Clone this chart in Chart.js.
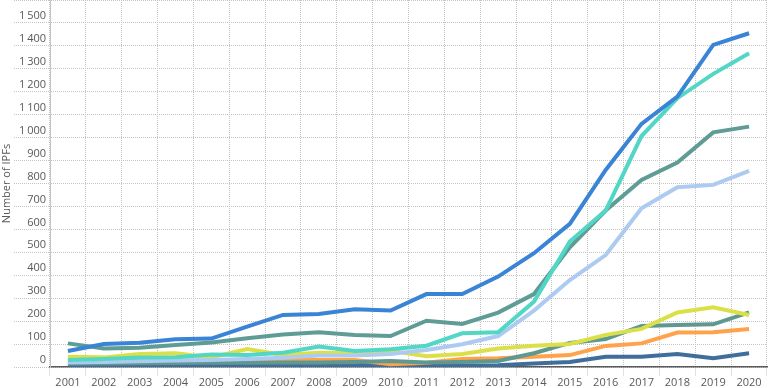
<!DOCTYPE html>
<html>
<head>
<meta charset="utf-8">
<script src="https://cdn.jsdelivr.net/npm/chart.js@4"></script>
<style>
    html, body { margin: 0; padding: 0; background: #ffffff; }
    #wrap { width: 768px; height: 388px; }
</style>
</head>
<body>
<div id="wrap"><canvas id="ipfChart"></canvas></div>
<script>
const years = ['2001', '2002', '2003', '2004', '2005', '2006', '2007', '2008', '2009', '2010',
               '2011', '2012', '2013', '2014', '2015', '2016', '2017', '2018', '2019', '2020'];

const blueSeries      = [70, 100, 106, 121, 124, 176, 227, 231, 252, 246, 318, 318, 394, 496, 624, 859, 1060, 1179, 1404, 1455];
const turquoiseSeries = [31, 35, 41, 42, 55, 52, 62, 89, 70, 77, 93, 147, 151, 285, 547, 682, 1007, 1172, 1278, 1368];
const tealSeries      = [103, 81, 84, 96, 107, 125, 142, 151, 140, 135, 202, 188, 237, 318, 522, 682, 815, 891, 1023, 1048];
const lightBlueSeries = [20, 22, 25, 28, 30, 35, 40, 50, 50, 57, 74, 99, 135, 246, 379, 488, 692, 784, 794, 855];
const yellowSeries    = [45, 42, 57, 60, 42, 78, 52, 62, 60, 71, 47, 57, 81, 93, 100, 140, 166, 238, 260, 227];
const tealLowSeries   = [15, 15, 16, 17, 18, 19, 20, 20, 22, 26, 20, 22, 26, 60, 105, 122, 179, 183, 186, 238];
const orangeSeries    = [26, 26, 26, 27, 28, 30, 31, 31, 30, 12, 19, 35, 38, 45, 52, 92, 103, 150, 151, 166];
const darkBlueSeries  = [7, 7, 8, 8, 8, 8, 9, 9, 9, 8, 5, 6, 8, 15, 22, 45, 45, 57, 38, 60];

const yTicks = [0, 100, 200, 300, 400, 500, 600, 700, 800, 900, 1000, 1100, 1200, 1300, 1400, 1500, 1600];

function makeLine(data, color) {
    return {
        data: data,
        borderColor: color,
        backgroundColor: color,
        borderWidth: 4,
        pointRadius: 0,
        tension: 0,
        fill: false
    };
}

const labelColor = '#595959';
const gridColor = '#c4c4c4';

new Chart(document.getElementById('ipfChart').getContext('2d'), {
    type: 'line',
    data: {
        labels: years,
        datasets: [
            makeLine(blueSeries, '#3a84d6'),
            makeLine(turquoiseSeries, '#52d6c6'),
            makeLine(tealSeries, '#5f9c95'),
            makeLine(lightBlueSeries, '#adcbf0'),
            makeLine(yellowSeries, '#dce048'),
            makeLine(tealLowSeries, '#5e9891'),
            makeLine(orangeSeries, '#ffa24c'),
            makeLine(darkBlueSeries, '#406e9c')
        ]
    },
    options: {
        responsive: true,
        maintainAspectRatio: false,
        animation: false,
        layout: { padding: { left: 0, right: 1, top: 0, bottom: 0 } },
        plugins: {
            legend: { display: false },
            tooltip: { enabled: false }
        },
        scales: {
            x: {
                type: 'category',
                offset: true,
                grid: {
                    offset: true,
                    color: gridColor,
                    tickLength: 9,
                    tickColor: gridColor,
                    tickBorderDash: [1, 1]
                },
                // dash here only styles the grid lines, the axis line stays solid
                border: { display: true, color: '#595959', width: 1.5, dash: [1, 1] },
                ticks: {
                    color: labelColor,
                    padding: 0,
                    maxRotation: 0,
                    autoSkip: false,
                    font: { family: 'Open Sans', size: 11 }
                },
                afterFit: function(scale) { scale.height = 21; }
            },
            y: {
                min: 0,
                max: 1600,
                afterBuildTicks: function(scale) {
                    scale.ticks = yTicks.map(v => ({ value: v }));
                },
                grid: {
                    color: gridColor,
                    tickLength: 36,
                    tickColor: gridColor,
                    tickBorderDash: [1, 1]
                },
                border: { display: true, color: gridColor, dash: [1, 1] },
                ticks: {
                    color: labelColor,
                    padding: -32,
                    labelOffset: -7,
                    font: { family: 'Open Sans', size: 11 },
                    callback: function(value) {
                        if (value === 1600) return '';
                        return value >= 1000 ? Math.floor(value / 1000) + '\u2009' + String(value % 1000).padStart(3, '0') : String(value);
                    }
                },
                title: {
                    display: true,
                    text: 'Number of IPFs',
                    color: labelColor,
                    padding: 0,
                    font: { family: 'Open Sans', size: 11 }
                },
                afterFit: function(scale) { scale.width = 50; }
            }
        }
    }
});
</script>
</body>
</html>
